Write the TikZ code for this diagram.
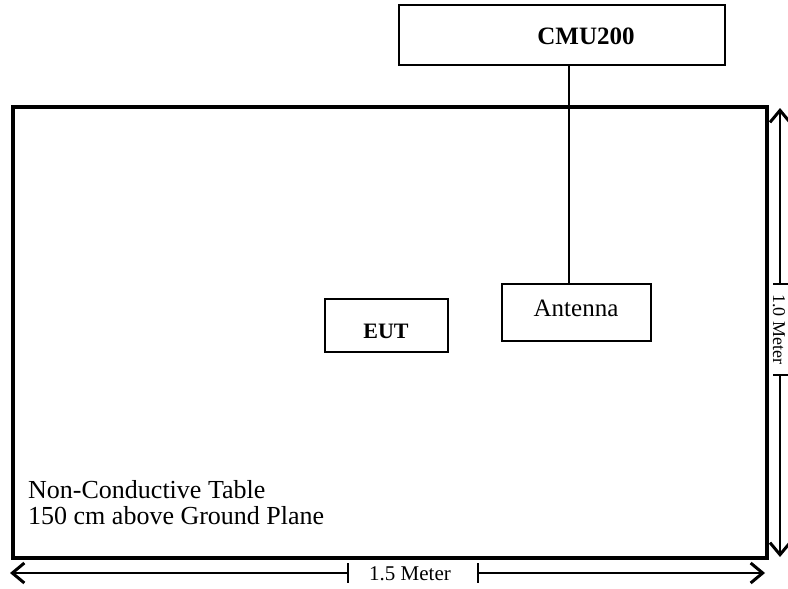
\documentclass[tikz,border=0pt]{standalone}
\usepackage{fontspec}
\setmainfont{Liberation Serif}
\usetikzlibrary{arrows.meta}
\begin{document}
\begin{tikzpicture}[x=1pt,y=-1pt,
  box/.style={draw,line width=1.6pt},
  dimline/.style={line width=1.4pt},
  dimarrow/.style={dimline,-{Straight Barb[length=12pt,width=20pt,line width=3pt]}},
  lbl/.style={font=\fontsize{21}{22}\selectfont,inner sep=0pt}]
\useasboundingbox (0,0) rectangle (788,589);
% CMU200
\draw[box] (399,5) rectangle (725,65);
\node[font=\bfseries\fontsize{25}{28}\selectfont,inner sep=0pt] (cmu) at (586,36) {CMU200};
\coordinate (cmuB) at (569,65);
% table
\draw[line width=3.2pt] (13,107) rectangle (767,558);
\node[anchor=north west,align=left,inner sep=0pt,font=\fontsize{26}{26}\selectfont] (tbl) at (28,480) {Non-Conductive Table\\150 cm above Ground Plane};
% antenna
\draw[box] (502,284) rectangle (651,341);
\node[font=\fontsize{25}{28}\selectfont,inner sep=0pt] (ant) at (576,308) {Antenna};
\coordinate (antT) at (569,284);
\draw[line width=1.4pt] (cmuB) -- (antT);
% EUT
\draw[box] (325,299) rectangle (448,352);
\node[font=\bfseries\fontsize{22}{24}\selectfont,inner sep=0pt] (eut) at (386,331) {EUT};
% horizontal dimension
\coordinate (hL) at (10,573);
\coordinate (hR) at (765,573);
\coordinate (hT1) at (348,573);
\coordinate (hT2) at (478,573);
\draw[dimarrow] (hT1) -- (hL);
\draw[dimarrow] (hT2) -- (hR);
\draw[dimline] (348,563) -- (348,583);
\draw[dimline] (478,563) -- (478,583);
\node[lbl] (hlab) at (410,574) {1.5 Meter};
% vertical dimension
\coordinate (vT) at (780,108);
\coordinate (vB) at (780,557);
\coordinate (vT1) at (780,284);
\coordinate (vT2) at (780,375);
\draw[dimarrow] (vT1) -- (vT);
\draw[dimarrow] (vT2) -- (vB);
\draw[dimline] (773,284) -- (788,284);
\draw[dimline] (773,375) -- (788,375);
\node[font=\fontsize{18}{20}\selectfont,inner sep=0pt,rotate=-90] (vlab) at (779,329) {1.0 Meter};
\end{tikzpicture}
\end{document}
